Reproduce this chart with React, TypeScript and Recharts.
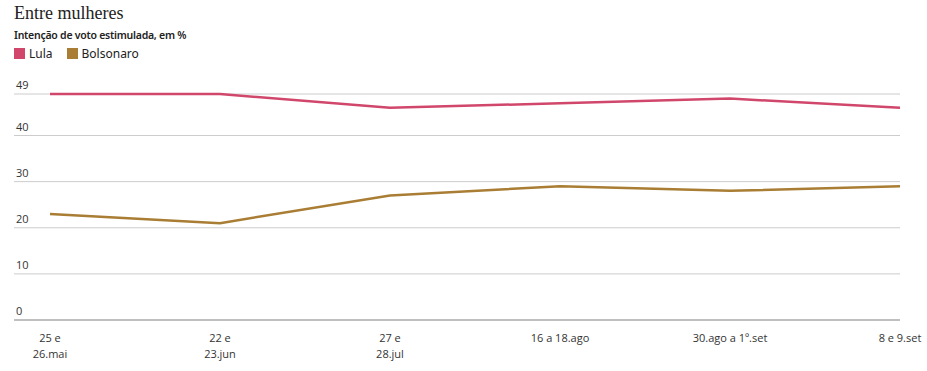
import React from 'react';
import { LineChart, Line, XAxis, YAxis, CartesianGrid } from 'recharts';

const periods = ['25 e\n26.mai', '22 e\n23.jun', '27 e\n28.jul', '16 a 18.ago', '30.ago a 1º.set', '8 e 9.set'];
const lula = [49, 49, 46, 47, 48, 46];
const bolsonaro = [23, 21, 27, 29, 28, 29];
const yTicks = [0, 10, 20, 30, 40, 49];

const LULA = '#d1476b';
const BOLSO = '#a97d33';
const TICK_FONT = '"Open Sans", sans-serif';

const data = periods.map((p, i) => ({ period: p, lula: lula[i], bolsonaro: bolsonaro[i] }));

function YTick({ y, payload }: any) {
  return (
    <text x={16} y={y - 5} fontSize={11} fill="#333" fontFamily={TICK_FONT} textAnchor="start">
      {payload.value}
    </text>
  );
}

function XTick({ x, y, payload }: any) {
  const lines = String(payload.value).split('\n');
  return (
    <text x={x} y={y + 14} fontSize={11} fill="#333" fontFamily={TICK_FONT} textAnchor="middle">
      {lines.map((l, i) => (
        <tspan key={i} x={x} dy={i === 0 ? 0 : 16}>{l}</tspan>
      ))}
    </text>
  );
}

export default function App() {
  return (
    <div style={{ position: 'absolute', top: 0, left: 0, width: 927, height: 371, background: '#fff', overflow: 'hidden' }}>
      <div style={{ position: 'absolute', left: 14, top: 3, fontFamily: '"Liberation Serif", serif', fontSize: 18, color: '#222' }}>
        Entre mulheres
      </div>
      <div style={{ position: 'absolute', left: 14, top: 28, fontFamily: '"Noto Sans", sans-serif', fontSize: 10.5, letterSpacing: -0.25, fontWeight: 600, color: '#222' }}>
        Intenção de voto estimulada, em %
      </div>
      <div style={{ position: 'absolute', left: 14, top: 45, display: 'flex', alignItems: 'center', fontFamily: '"Noto Sans", sans-serif', fontSize: 12, color: '#222' }}>
        <span style={{ width: 11, height: 11, background: LULA, display: 'inline-block', marginRight: 4 }} />
        <span style={{ marginRight: 14 }}>Lula</span>
        <span style={{ width: 11, height: 11, background: BOLSO, display: 'inline-block', marginRight: 4 }} />
        <span>Bolsonaro</span>
      </div>
      <div style={{ position: 'absolute', left: 0, top: 0 }}>
        <LineChart width={927} height={371} data={data} margin={{ top: 94, right: 27, left: 13, bottom: 0 }}>
          <CartesianGrid vertical={false} stroke="#cccccc" />
          <XAxis
            dataKey="period"
            interval={0}
            height={51}
            padding={{ left: 36, right: 0 }}
            tickLine={false}
            axisLine={{ stroke: '#999' }}
            tick={<XTick />}
          />
          <YAxis
            width={1}
            domain={[0, 49]}
            ticks={yTicks}
            interval={0}
            axisLine={false}
            tickLine={false}
            tick={<YTick />}
          />
          <Line dataKey="lula" stroke={LULA} strokeWidth={2.5} dot={false} isAnimationActive={false} type="linear" />
          <Line dataKey="bolsonaro" stroke={BOLSO} strokeWidth={2.5} dot={false} isAnimationActive={false} type="linear" />
        </LineChart>
      </div>
    </div>
  );
}
